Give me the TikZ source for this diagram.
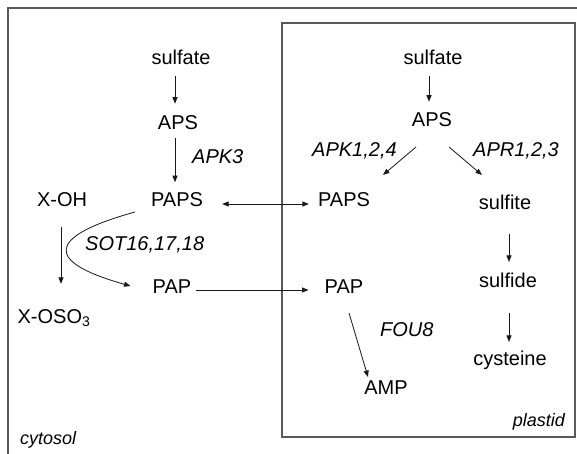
\documentclass[tikz,border=0pt]{standalone}
\usepackage{fontspec}
\setmainfont{Liberation Sans}
\usetikzlibrary{arrows.meta}
\begin{document}
\begin{tikzpicture}[x=1pt,y=-1pt,
  lbl/.style={inner sep=0pt,font=\fontsize{20}{24}\selectfont},
  enz/.style={inner sep=0pt,anchor=west,font=\fontsize{20}{24}\selectfont\itshape},
  place/.style={inner sep=0pt,font=\fontsize{18}{22}\selectfont\itshape},
  arr/.style={draw=black!90,line width=0.8pt,-{Triangle[length=6.5pt,width=5pt]}},
  wall/.style={draw=black!65,line width=1.2pt}]
\useasboundingbox (0,0) rectangle (577,454);
\clip (0,0) rectangle (577,454);
\fill[white] (0,0) rectangle (577,454);

% compartments
\draw[wall] (8,8) rectangle (600,480);
\draw[wall] (282,23) rectangle (575,437);

% cytosol
\node[lbl] (sulfC) at (181,57) {sulfate};
\node[lbl] (apsC) at (178,123) {APS};
\node[lbl] (papsC) at (177,200) {PAPS};
\node[lbl] (xoh) at (62,200) {X-OH};
\node[lbl,anchor=base] (xoso) at (54,323) {X-OSO\textsubscript{3}};
\node[lbl] (papC) at (172,287) {PAP};
\node[enz] (apk3) at (192,157) {APK3};
\node[enz] (sot) at (85,245) {SOT16,17,18};
\node[place,anchor=west] (cyto) at (20,440) {cytosol};

% plastid
\node[lbl] (sulfP) at (433,57) {sulfate};
\node[lbl] (apsP) at (432,120) {APS};
\node[lbl] (papsP) at (344,200) {PAPS};
\node[lbl] (sulfite) at (505,202) {sulfite};
\node[lbl] (sulfide) at (508,280) {sulfide};
\node[lbl] (cys) at (510,360) {cysteine};
\node[lbl] (papP) at (344,287) {PAP};
\node[lbl] (amp) at (386,388) {AMP};
\node[enz] (apk124) at (312,151) {APK1,2,4};
\node[enz] (apr123) at (473,151) {APR1,2,3};
\node[enz] (fou8) at (380,330) {FOU8};
\node[place,anchor=east] (plas) at (565,422) {plastid};

% cytosolic reactions
\draw[arr,shorten <=11pt,shorten >=12pt] ([xshift=-6pt]sulfC.south) -- ([xshift=-3pt]apsC.north);
\draw[arr,shorten <=8pt,shorten >=10.5pt] ([xshift=-3pt]apsC.south) -- ([xshift=-2pt]papsC.north);
\draw[arr,shorten <=20pt,shorten >=25pt] ([xshift=-1pt]xoh.south) -- ([xshift=7pt]xoso.north);
\draw[arr] ([shift={(-42pt,-12pt)}]papsC.center) .. controls (45,237) and (45,262) .. ([xshift=-22pt,yshift=1pt]papC.west);

% transport between compartments
\draw[arr,{Triangle[length=6.5pt,width=5pt]}-{Triangle[length=6.5pt,width=5pt]},shorten <=19pt,shorten >=9pt] ([yshift=-4pt]papsC.east) -- ([yshift=-4pt]papsP.west);
\draw[arr,shorten <=5pt,shorten >=16pt] ([yshift=-3pt]papC.east) -- ([yshift=-3pt]papP.west);

% plastidic reactions
\draw[arr,shorten <=11pt,shorten >=11pt] ([xshift=-4pt]sulfP.south) -- ([xshift=-3pt]apsP.north);
\draw[arr] ([shift={(-16pt,-27pt)}]apsP.center) -- ([shift={(39pt,25pt)}]papsP.center);
\draw[arr] ([shift={(17pt,-27pt)}]apsP.center) -- ([shift={(-23pt,27pt)}]sulfite.center);
\draw[arr,shorten <=24pt,shorten >=10.5pt] ([xshift=4pt]sulfite.south) -- ([xshift=1pt]sulfide.north);
\draw[arr,shorten <=25.5pt,shorten >=8.5pt] ([xshift=1pt]sulfide.south) -- ([xshift=-1pt]cys.north);
\draw[arr] ([shift={(5pt,-26pt)}]papP.center) -- ([shift={(-18pt,11pt)}]amp.center);
\end{tikzpicture}
\end{document}
